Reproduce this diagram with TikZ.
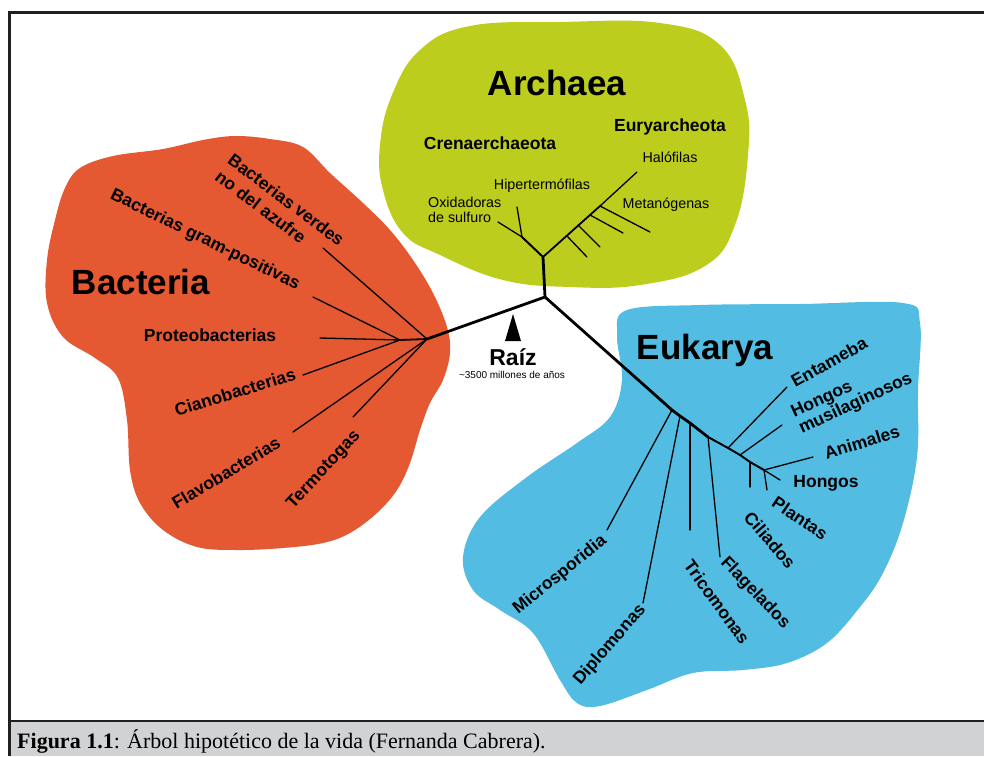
\documentclass[tikz,border=0pt]{standalone}
\usepackage{fontspec}
\setmainfont{Liberation Serif}
\newfontfamily\labelfont{Liberation Sans}
\definecolor{bactcol}{RGB}{228,88,50}
\definecolor{archcol}{RGB}{188,205,30}
\definecolor{eukcol}{RGB}{82,188,227}
\definecolor{capgray}{RGB}{209,210,212}
\definecolor{framecol}{RGB}{35,31,32}
\begin{document}
\begin{tikzpicture}[x = 1pt, y = -1pt,
  taxon/.style = {black, inner sep = 0, font = \labelfont\bfseries\fontsize{17.5}{20}\selectfont},
  domainlabel/.style = {black, inner sep = 0, font = \labelfont\bfseries\fontsize{35}{38}\selectfont},
  clade/.style = {black, inner sep = 0, font = \labelfont\fontsize{14.3}{15.5}\selectfont},
  trunk/.style = {black, line width = 2.8, line cap = round, line join = round},
  twig/.style = {black, line width = 1.3, line cap = round}]
\useasboundingbox (0, 0) rectangle (984, 756);
\fill[white] (0, 0) rectangle (984, 756);

\fill[archcol] plot[smooth cycle, tension = 0.7] coordinates {(470, 26) (560, 22) (660, 23) (720, 45) (745, 100) (748, 155) (735, 225) (705, 266) (640, 285) (570, 287) (503, 280) (440, 255) (403, 233) (383, 190) (380, 145) (392, 95) (420, 50)};
\fill[bactcol] plot[smooth cycle, tension = 0.6] coordinates {(80, 168) (113, 156) (163, 149) (203, 140) (235, 136) (270, 139) (303, 147) (330, 173) (363, 203) (390, 230) (413, 260) (433, 293) (447, 327) (450, 353) (443, 380) (430, 403) (420, 430) (410, 463) (397, 490) (377, 513) (350, 533) (323, 543) (283, 548) (237, 550) (197, 547) (163, 530) (140, 503) (130, 470) (127, 420) (118, 378) (95, 358) (63, 337) (47, 303) (47, 260) (55, 220) (65, 188)};
\fill[eukcol] plot[smooth cycle, tension = 0.6] coordinates {(627, 310) (700, 305) (800, 304) (903, 303) (920, 323) (918, 390) (917, 457) (903, 523) (883, 573) (860, 607) (827, 643) (787, 663) (743, 670) (693, 673) (647, 690) (600, 706) (577, 703) (560, 680) (533, 633) (500, 610) (473, 590) (463, 557) (480, 517) (527, 477) (577, 443) (610, 417) (622, 380) (617, 335)};

\coordinate (root) at (545, 297);
\coordinate (astem) at (543, 257);
\coordinate (cren) at (522, 237);
\coordinate (hipend) at (517, 207);
\coordinate (oxiend) at (498, 222);
\coordinate (haloend) at (637, 172);
\coordinate (m1) at (567, 236);
\coordinate (m1end) at (587, 257);
\coordinate (m2) at (578, 225);
\coordinate (m2end) at (600, 247);
\coordinate (m3) at (590, 215);
\coordinate (m3end) at (623, 233);
\coordinate (m4) at (600, 206);
\coordinate (m4end) at (650, 232);
\coordinate (bj) at (427, 339);
\coordinate (bj2) at (400, 340);
\coordinate (verdesend) at (323, 248);
\coordinate (gramend) at (313, 297);
\coordinate (proteoend) at (320, 338);
\coordinate (cianoend) at (303, 375);
\coordinate (flavoend) at (293, 432);
\coordinate (termoend) at (353, 417);
\coordinate (e1) at (672, 410);
\coordinate (e2) at (680, 416);
\coordinate (e3) at (690, 423);
\coordinate (e4) at (708, 437);
\coordinate (e5) at (728, 448);
\coordinate (e6) at (740, 455);
\coordinate (e7) at (750, 462);
\coordinate (e8) at (764, 470);
\coordinate (microend) at (607, 530);
\coordinate (diploend) at (643, 603);
\coordinate (tricoend) at (690, 530);
\coordinate (flagend) at (720, 557);
\coordinate (entaend) at (787, 387);
\coordinate (musiend) at (782, 425);
\coordinate (ciliend) at (750, 487);
\coordinate (animend) at (813, 457);
\coordinate (hongend) at (780, 480);
\coordinate (plantend) at (767, 490);

\draw[trunk] (bj) -- (root) -- (astem);
\draw[trunk] (root) -- (e1) -- (e2) -- (e3) -- (e4);
\draw[black, line width = 2, line cap = round, line join = round] (e4) -- (e5) -- (e6) -- (e7) -- (e8);
\draw[black, line width = 2] (astem) -- (cren);
\draw[black, line width = 1.8] (astem) -- (m4);
\draw[twig] (m4) -- (haloend);
\draw[twig] (cren) -- (hipend);
\draw[twig] (cren) -- (oxiend);
\draw[twig] (m1) -- (m1end);
\draw[twig] (m2) -- (m2end);
\draw[twig] (m3) -- (m3end);
\draw[twig] (m4) -- (m4end);
\draw[black, line width = 1.8] (bj) -- (bj2);
\draw[twig] (bj) -- (verdesend);
\draw[twig] (bj2) -- (gramend);
\draw[twig] (bj2) -- (proteoend);
\draw[twig] (bj2) -- (cianoend);
\draw[twig] (bj) -- (flavoend);
\draw[twig] (bj) -- (termoend);
\draw[twig] (e1) -- (microend);
\draw[twig] (e2) -- (diploend);
\draw[twig] (e3) -- (tricoend);
\draw[twig] (e4) -- (flagend);
\draw[twig] (e5) -- (entaend);
\draw[twig] (e6) -- (musiend);
\draw[twig] (e7) -- (ciliend);
\draw[twig] (e8) -- (animend);
\draw[twig] (e8) -- (hongend);
\draw[twig] (e8) -- (plantend);

\node[domainlabel] (archaea) at (557, 83) {Archaea};
\node[taxon] (crenarch) at (490, 143) {Crenaerchaeota};
\node[taxon] (euryarch) at (670, 127) {Euryarcheota};
\node[clade] (halofilas) at (670, 157) {Halófilas};
\node[clade] (hipertermo) at (542, 186) {Hipertermófilas};
\node[clade, anchor = west, align = left] (oxidadoras) at (428, 210) {Oxidadoras\\de sulfuro};
\node[clade] (metanogenas) at (666, 205) {Metanógenas};

\node[domainlabel] (bacteria) at (141, 282) {Bacteria};
\node[taxon, rotate = -37, align = left, font = \labelfont\bfseries\fontsize{17.5}{21}\selectfont] (verdes) at (280, 208) {Bacterias verdes\\no del azufre};
\node[taxon, rotate = -26] (grampos) at (205, 240) {Bacterias gram-positivas};
\node[taxon] (proteo) at (210, 335) {Proteobacterias};
\node[taxon, rotate = 17] (ciano) at (235, 392) {Cianobacterias};
\node[taxon, rotate = 31] (flavo) at (226, 473) {Flavobacterias};
\node[taxon, rotate = 47] (termo) at (324, 470) {Termotogas};

\node[domainlabel] (eukarya) at (705, 350) {Eukarya};
\node[taxon, rotate = 29] (entameba) at (829, 362) {Entameba};
\node[taxon, rotate = 25, align = left, font = \labelfont\bfseries\fontsize{17.5}{18}\selectfont] (musilag) at (852, 396) {Hongos\\musilaginosos};
\node[taxon, rotate = 17] (animales) at (862, 442) {Animales};
\node[taxon] (hongos) at (826, 483) {Hongos};
\node[taxon, rotate = -34] (plantas) at (800, 518) {Plantas};
\node[taxon, rotate = -49] (ciliados) at (770, 540) {Ciliados};
\node[taxon, rotate = -46] (flagelados) at (755, 593) {Flagelados};
\node[taxon, rotate = -54] (tricomonas) at (717, 602) {Tricomonas};
\node[taxon, rotate = 49] (diplomonas) at (610, 645) {Diplomonas};
\node[taxon, rotate = 39] (microsp) at (560, 575) {Microsporidia};

\fill[black] (505, 341) -- (521, 341) -- (513, 314) -- cycle;
\node[black, inner sep = 0, font = \labelfont\bfseries\fontsize{23}{25}\selectfont] (raiz) at (513, 357) {Raíz};
\node[black, inner sep = 0, font = \labelfont\fontsize{10}{11}\selectfont] (edad) at (512, 375) {\textasciitilde 3500 millones de años};

\fill[capgray] (9, 722) rectangle (984, 756);
\draw[framecol, line width = 2.5] (9, 721) -- (984, 721);
\draw[framecol, line width = 3] (9, 756) -- (9, 12) -- (984, 12);
\node[black, anchor = base west, inner sep = 0, font = \fontsize{22}{24}\selectfont] (caption) at (17, 748) {\textbf{Figura 1.1}: Árbol hipotético de la vida (Fernanda Cabrera).};
\end{tikzpicture}
\end{document}
